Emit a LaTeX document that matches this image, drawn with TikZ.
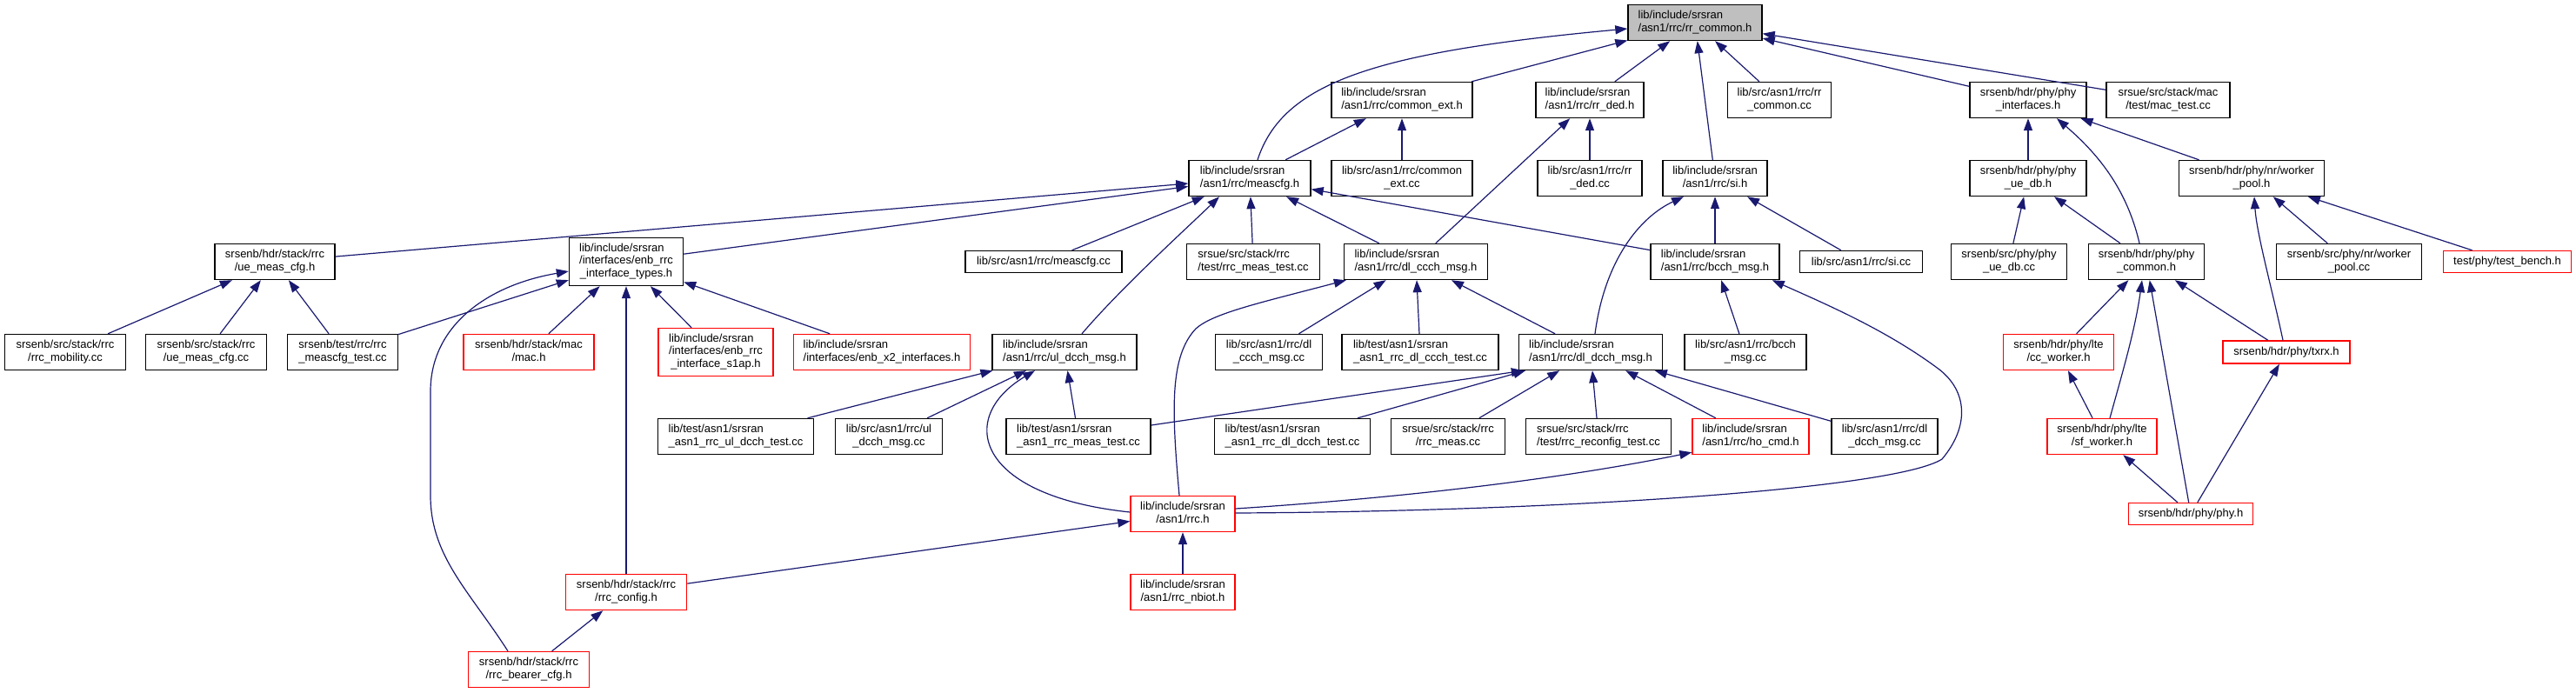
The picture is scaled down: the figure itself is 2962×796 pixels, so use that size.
\documentclass[tikz,border=0pt]{standalone}
\usepackage{fontspec}
\setmainfont{Liberation Sans}
\usetikzlibrary{arrows.meta,calc}
\definecolor{edgecol}{HTML}{191970}
\definecolor{mainfill}{HTML}{BFBFBF}
\definecolor{truncred}{HTML}{FF0000}
\newcommand\nfont{\fontsize{13}{14.3}\selectfont}
\newcommand\tlab[2]{\begin{tabular}{@{}l@{}}#1\\\multicolumn{1}{@{}c@{}}{#2}\end{tabular}}
\newcommand\thlab[3]{\begin{tabular}{@{}l@{}}#1\\#2\\\multicolumn{1}{@{}c@{}}{#3}\end{tabular}}
\tikzset{
  box/.style={draw=black, line width=1.4pt, fill=white, inner sep=0pt, font=\nfont, text=black, minimum height=41pt},
  redbox/.style={box, draw=truncred},
  mainbox/.style={box, fill=mainfill},
  dep/.style={draw=edgecol, line width=1.2pt, -{Triangle[length=14pt,width=10pt]}},
}
\begin{document}
\begin{tikzpicture}[x=1pt,y=-1pt]
\useasboundingbox (0,0) rectangle (2962,796);
% row 0
\node[mainbox, minimum width=154pt] (rc) at (1949,26) {\tlab{lib/include/srsran}{/asn1/rrc/rr\_common.h}};
% row 1
\node[box, minimum width=162pt] (ce) at (1612,115) {\tlab{lib/include/srsran}{/asn1/rrc/common\_ext.h}};
\node[box, minimum width=124pt] (rd) at (1828,115) {\tlab{lib/include/srsran}{/asn1/rrc/rr\_ded.h}};
\node[box, minimum width=119pt] (rcc) at (2046,115) {\tlab{lib/src/asn1/rrc/rr}{\_common.cc}};
\node[box, minimum width=134pt] (pi) at (2332,115) {\tlab{srsenb/hdr/phy/phy}{\_interfaces.h}};
\node[box, minimum width=142pt] (mtc) at (2493,115) {\tlab{srsue/src/stack/mac}{/test/mac\_test.cc}};
% row 2
\node[box, minimum width=140pt] (mc) at (1437,205) {\tlab{lib/include/srsran}{/asn1/rrc/meascfg.h}};
\node[box, minimum width=162pt] (cec) at (1612,205) {\tlab{lib/src/asn1/rrc/common}{\_ext.cc}};
\node[box, minimum width=120pt] (rdc) at (1828,205) {\tlab{lib/src/asn1/rrc/rr}{\_ded.cc}};
\node[box, minimum width=120pt] (si) at (1972,205) {\tlab{lib/include/srsran}{/asn1/rrc/si.h}};
\node[box, minimum width=134pt] (pu) at (2332,205) {\tlab{srsenb/hdr/phy/phy}{\_ue\_db.h}};
\node[box, minimum width=167pt] (wp) at (2589,205) {\tlab{srsenb/hdr/phy/nr/worker}{\_pool.h}};
% row 3
\node[box, minimum width=138pt] (umc) at (316,301) {\tlab{srsenb/hdr/stack/rrc}{/ue\_meas\_cfg.h}};
\node[box, minimum width=131pt, minimum height=55pt] (en) at (720,301) {\thlab{lib/include/srsran}{/interfaces/enb\_rrc}{\_interface\_types.h}};
\node[box, minimum width=180pt, minimum height=25pt] (mcc) at (1200,301) {lib/src/asn1/rrc/meascfg.cc};
\node[box, minimum width=153pt] (rmt) at (1441,301) {\tlab{srsue/src/stack/rrc}{/test/rrc\_meas\_test.cc}};
\node[box, minimum width=165pt] (dcm) at (1628,301) {\tlab{lib/include/srsran}{/asn1/rrc/dl\_ccch\_msg.h}};
\node[box, minimum width=148pt] (bh) at (1972,301) {\tlab{lib/include/srsran}{/asn1/rrc/bcch\_msg.h}};
\node[box, minimum width=141pt, minimum height=25pt] (sic) at (2140,301) {lib/src/asn1/rrc/si.cc};
\node[box, minimum width=133pt] (puc) at (2310,301) {\tlab{srsenb/src/phy/phy}{\_ue\_db.cc}};
\node[box, minimum width=133pt] (pc) at (2468,301) {\tlab{srsenb/hdr/phy/phy}{\_common.h}};
\node[box, minimum width=167pt] (wpc) at (2701,301) {\tlab{srsenb/src/phy/nr/worker}{\_pool.cc}};
\node[redbox, minimum width=147pt, minimum height=25pt] (tb) at (2883,301) {test/phy/test\_bench.h};
% row 4
\node[box, minimum width=139pt] (rm) at (75,405) {\tlab{srsenb/src/stack/rrc}{/rrc\_mobility.cc}};
\node[box, minimum width=139pt] (umcc) at (237,405) {\tlab{srsenb/src/stack/rrc}{/ue\_meas\_cfg.cc}};
\node[box, minimum width=127pt] (mct) at (394,405) {\tlab{srsenb/test/rrc/rrc}{\_meascfg\_test.cc}};
\node[redbox, minimum width=150pt] (mac) at (608,405) {\tlab{srsenb/hdr/stack/mac}{/mac.h}};
\node[redbox, minimum width=132pt, minimum height=55pt] (s1) at (823,405) {\thlab{lib/include/srsran}{/interfaces/enb\_rrc}{\_interface\_s1ap.h}};
\node[redbox, minimum width=203pt] (x2) at (1014,405) {\tlab{lib/include/srsran}{/interfaces/enb\_x2\_interfaces.h}};
\node[box, minimum width=166pt] (ud) at (1224,405) {\tlab{lib/include/srsran}{/asn1/rrc/ul\_dcch\_msg.h}};
\node[box, minimum width=123pt] (dcc) at (1459,405) {\tlab{lib/src/asn1/rrc/dl}{\_ccch\_msg.cc}};
\node[box, minimum width=180pt] (dct) at (1633,405) {\tlab{lib/test/asn1/srsran}{\_asn1\_rrc\_dl\_ccch\_test.cc}};
\node[box, minimum width=165pt] (dd) at (1829,405) {\tlab{lib/include/srsran}{/asn1/rrc/dl\_dcch\_msg.h}};
\node[box, minimum width=140pt] (bcc) at (2007,405) {\tlab{lib/src/asn1/rrc/bcch}{\_msg.cc}};
\node[redbox, minimum width=127pt] (cw) at (2367,405) {\tlab{srsenb/hdr/phy/lte}{/cc\_worker.h}};
\node[redbox, minimum width=146pt, minimum height=26pt] (tx) at (2629,405) {srsenb/hdr/phy/txrx.h};
% row 5
\node[box, minimum width=179pt] (udt) at (846,502) {\tlab{lib/test/asn1/srsran}{\_asn1\_rrc\_ul\_dcch\_test.cc}};
\node[box, minimum width=123pt] (udc) at (1022,502) {\tlab{lib/src/asn1/rrc/ul}{\_dcch\_msg.cc}};
\node[box, minimum width=166pt] (mt) at (1240,502) {\tlab{lib/test/asn1/srsran}{\_asn1\_rrc\_meas\_test.cc}};
\node[box, minimum width=179pt] (ddt) at (1486,502) {\tlab{lib/test/asn1/srsran}{\_asn1\_rrc\_dl\_dcch\_test.cc}};
\node[box, minimum width=131pt] (rmc) at (1665,502) {\tlab{srsue/src/stack/rrc}{/rrc\_meas.cc}};
\node[box, minimum width=167pt] (rrt) at (1838,502) {\tlab{srsue/src/stack/rrc}{/test/rrc\_reconfig\_test.cc}};
\node[redbox, minimum width=134pt] (ho) at (2013,502) {\tlab{lib/include/srsran}{/asn1/rrc/ho\_cmd.h}};
\node[box, minimum width=122pt] (ddc) at (2167,502) {\tlab{lib/src/asn1/rrc/dl}{\_dcch\_msg.cc}};
\node[redbox, minimum width=126pt] (sf) at (2417,502) {\tlab{srsenb/hdr/phy/lte}{/sf\_worker.h}};
% row 6
\node[redbox, minimum width=120pt] (rr) at (1360,591) {\tlab{lib/include/srsran}{/asn1/rrc.h}};
\node[redbox, minimum width=143pt, minimum height=25pt] (ph) at (2519,591) {srsenb/hdr/phy/phy.h};
% row 7
\node[redbox, minimum width=139pt] (cfg) at (720,681) {\tlab{srsenb/hdr/stack/rrc}{/rrc\_config.h}};
\node[redbox, minimum width=120pt] (nb) at (1360,681) {\tlab{lib/include/srsran}{/asn1/rrc\_nbiot.h}};
% row 8
\node[redbox, minimum width=139pt] (bc) at (608,770) {\tlab{srsenb/hdr/stack/rrc}{/rrc\_bearer\_cfg.h}};

% ---- edges (child -> included file) ----
\draw[dep] ([xshift=9pt]mc.north) .. controls (1475,95) and (1580,60) .. ([yshift=-7pt]rc.west);
\draw[dep] (ce) -- (rc);
\draw[dep] (rd) -- (rc);
\draw[dep] (rcc) -- (rc);
\draw[dep] (si) -- (rc);
\draw[dep] (pi) -- (rc);
\draw[dep] (mtc) -- (rc);
\draw[dep] (mc) -- (ce);
\draw[dep] (cec) -- (ce);
\draw[dep] (dcm) -- (rd);
\draw[dep] (rdc) -- (rd);
\draw[dep] (pu) -- (pi);
\draw[dep] ([xshift=-8pt]pc.north) .. controls (2445,215) and (2410,175) .. ([xshift=33pt]pi.south);
\draw[dep] (wp) -- (pi);
\draw[dep] (umc) -- (mc);
\draw[dep] (en) -- (mc);
\draw[dep] (mcc) -- (mc);
\draw[dep] ([xshift=20pt]ud.north) .. controls (1290,330) and (1365,262) .. ([xshift=-35pt]mc.south);
\draw[dep] (rmt) -- (mc);
\draw[dep] (dcm) -- (mc);
\draw[dep] (bh) -- (mc);
\draw[dep] (bh) -- (si);
\draw[dep] ([xshift=5pt]dd.north) .. controls (1845,300) and (1885,250) .. ([xshift=-36pt]si.south);
\draw[dep] (sic) -- (si);
\draw[dep] (puc) -- (pu);
\draw[dep] (pc) -- (pu);
\draw[dep] ([xshift=-4pt]tx.north) .. controls (2612,330) and (2595,270) .. ([xshift=3pt]wp.south);
\draw[dep] (wpc) -- (wp);
\draw[dep] (tb) -- (wp);
\draw[dep] (rm) -- (umc);
\draw[dep] (umcc) -- (umc);
\draw[dep] (mct) -- (umc);
\draw[dep] (mct) -- (en);
\draw[dep] ([xshift=-24pt]bc.north) .. controls (540,680) and (495,640) .. (495,570) -- (495,450) .. controls (495,375) and (560,328) .. ([yshift=-11pt]en.west);
\draw[dep] (mac) -- (en);
\draw[dep] (cfg) -- (en);
\draw[dep] (s1) -- (en);
\draw[dep] (x2) -- (en);
\draw[dep] ([xshift=-4pt]rr.north) .. controls (1347,470) and (1345,410) .. (1375,378) .. controls (1395,360) and (1450,348) .. ([xshift=3pt]dcm.south west);
\draw[dep] (dcc) -- (dcm);
\draw[dep] (dct) -- (dcm);
\draw[dep] (dd) -- (dcm);
\draw[dep] (bcc) -- (bh);
\draw[dep] ([yshift=1pt]rr.east) .. controls (1800,588) and (2180,562) .. (2233,528) .. controls (2265,490) and (2262,450) .. (2230,425) .. controls (2170,380) and (2100,350) .. ([xshift=-9pt]bh.south east);
\draw[dep] (cw) -- (pc);
\draw[dep] ([xshift=9pt]sf.north) .. controls (2440,430) and (2455,380) .. ([xshift=-5pt]pc.south);
\draw[dep] (ph) -- (pc);
\draw[dep] (tx) -- (pc);
\draw[dep] (udt) -- (ud);
\draw[dep] (udc) -- (ud);
\draw[dep] ([yshift=2pt]rr.west) .. controls (1120,570) and (1100,480) .. ([xshift=-34pt]ud.south);
\draw[dep] (mt) -- (ud);
\draw[dep] ([yshift=13pt]mt.east) -- ([xshift=6pt]dd.south west);
\draw[dep] (ddt) -- (dd);
\draw[dep] (rmc) -- (dd);
\draw[dep] (rrt) -- (dd);
\draw[dep] (ho) -- (dd);
\draw[dep] (ddc) -- (dd);
\draw[dep] (sf) -- (cw);
\draw[dep] (ph) -- (tx);
\draw[dep] (ph) -- (sf);
\draw[dep] ([yshift=6pt]rr.east) .. controls (1620,572) and (1800,550) .. ([yshift=3pt]ho.south west);
\draw[dep] (cfg) -- (rr);
\draw[dep] (nb) -- (rr);
\draw[dep] (bc) -- (cfg);
\end{tikzpicture}
\end{document}
